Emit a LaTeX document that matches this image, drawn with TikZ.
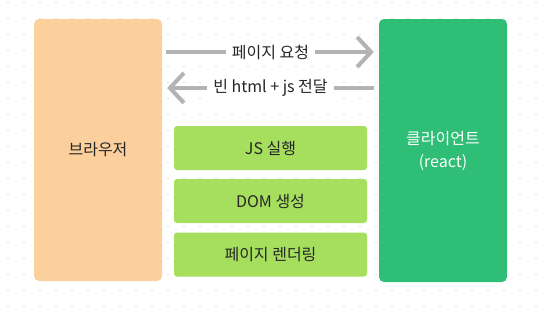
\documentclass[tikz,border=0pt]{standalone}
\usepackage{fontspec}
\setmainfont{Noto Sans CJK KR}
\usetikzlibrary{arrows.meta}
\definecolor{peach}{HTML}{FBD09C}
\definecolor{bigGreen}{HTML}{2EBE76}
\definecolor{lightGreen}{HTML}{A6DF5E}
\definecolor{arrGray}{HTML}{B3B3B3}
\definecolor{dotGray}{HTML}{DCDCDC}
\definecolor{txt}{HTML}{262626}
\tikzset{
  bigbox/.style={rounded corners=5pt, inner sep=0pt, font=\fontsize{16}{23}\selectfont, align=center},
  stepbox/.style={rounded corners=3pt, fill=lightGreen, minimum width=193pt, minimum height=44pt, inner sep=0pt, font=\fontsize{16}{19}\selectfont, text=txt},
  arr/.style={draw=arrGray, line width=4pt, -{Straight Barb[length=14pt,width=30pt,line width=4pt]}},
  lbl/.style={fill=white, inner xsep=6pt, inner ysep=2pt, font=\fontsize{16}{19}\selectfont, text=txt}
}
\begin{document}
\begin{tikzpicture}[x=1pt,y=-1pt]
\useasboundingbox (0,0) rectangle (545,314);
\fill[white] (0,0) rectangle (545,314);
\foreach \i in {0,...,33}{
  \foreach \j in {0,...,19}{
    \fill[dotGray] (8+16*\i,2.5+16*\j) circle (0.9pt);
  }
}
\node[bigbox, fill=peach, minimum width=128pt, minimum height=262pt, text=txt] (browser) at (98,150) {브라우저};
\node[bigbox, fill=bigGreen, minimum width=128pt, minimum height=263pt, text=white] (client) at (443,150.5) {클라이언트\\(react)};
\node[stepbox] (js) at (270.5,148) {JS 실행};
\node[stepbox] (dom) at (270.5,201) {DOM 생성};
\node[stepbox] (render) at (270.5,254.5) {페이지 렌더링};
\draw[arr, shorten <=4pt, shorten >=5pt] (browser.east |- 0,52) -- node[lbl]{페이지 요청} (client.west |- 0,52);
\draw[arr, shorten <=5pt, shorten >=5pt] (client.west |- 0,88) -- node[lbl]{빈 html + js 전달} (browser.east |- 0,88);
\end{tikzpicture}
\end{document}
